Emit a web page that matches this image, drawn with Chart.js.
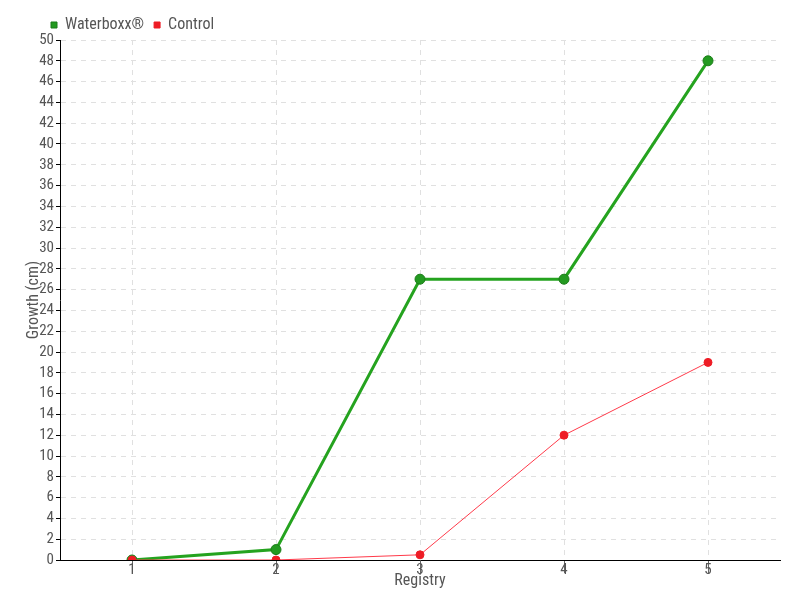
<!DOCTYPE html>
<html><head><meta charset="utf-8">
<script src="https://cdn.jsdelivr.net/npm/chart.js@4/dist/chart.umd.min.js"></script>
<style>html,body{margin:0;padding:0;background:#fff}#wrap{width:800px;height:600px}</style>
</head><body><div id="wrap"><canvas id="c" width="800" height="600"></canvas></div>
<script>
const categories = ['1', '2', '3', '4', '5'];
const waterboxx = [0, 1, 27, 27, 48];
const control = [0, 0, 0.5, 12, 19];
const seriesNames = ['Waterboxx®', 'Control'];
const FONT = "'Roboto Condensed', 'DejaVu Sans Condensed', sans-serif";
Chart.defaults.font.family = FONT;
Chart.defaults.color = '#555';
const legendShift = {
  id: 'legendShift',
  afterLayout(chart) { if (chart.legend) { chart.legend.left = 41; chart.legend.top += 3; } }
};
new Chart(document.getElementById('c'), {
  type: 'line',
  data: {
    labels: categories,
    datasets: [
      { label: seriesNames[0], data: waterboxx, order: 1, borderColor: '#25a31f', backgroundColor: '#22a01c',
        borderWidth: 3, pointRadius: 5, pointBackgroundColor: '#239a20', pointBorderColor: '#1b7d18', pointBorderWidth: 1, tension: 0 },
      { label: seriesNames[1], data: control, order: 0, borderColor: '#ff3a4a', backgroundColor: '#ee1c25',
        borderWidth: 1, pointRadius: 4, pointBackgroundColor: '#ee1c25', pointBorderColor: '#ee1c25', pointBorderWidth: 1, tension: 0 }
    ]
  },
  plugins: [legendShift],
  options: {
    responsive: false, animation: false,
    layout: { padding: { left: 0, right: 20, top: 4, bottom: 0 } },
    plugins: {
      legend: { align: 'start', labels: { usePointStyle: true, pointStyle: 'rect', boxWidth: 6, boxHeight: 6, padding: 10, font: { size: 16 }, color: '#555',
        sort: (a, b) => a.datasetIndex - b.datasetIndex } },
      tooltip: { enabled: false }
    },
    scales: {
      x: {
        offset: true,
        grid: { offset: false, color: '#e0e0e0', tickColor: '#666', tickLength: 13, drawTicks: true },
        border: { color: '#000', width: 1, dash: [5, 5] },
        ticks: { padding: -12, font: { size: 15 }, color: '#555' },
        title: { display: true, text: 'Registry', font: { size: 16 }, color: '#555', padding: { top: 0, bottom: 9 } },
        afterFit: s => { s.height = 40; }
      },
      y: {
        min: 0, max: 50,
        grid: { color: '#e0e0e0', tickColor: '#000', tickLength: 4 },
        border: { color: '#000', width: 1, dash: [5, 5] },
        ticks: { stepSize: 2, autoSkip: false, padding: 2, font: { size: 15 }, color: '#555' },
        title: { display: true, text: 'Growth (cm)', font: { size: 16 }, color: '#555', padding: { top: 24, bottom: 0 } },
        afterFit: s => { s.width = 60; }
      }
    }
  }
});
</script></body></html>
